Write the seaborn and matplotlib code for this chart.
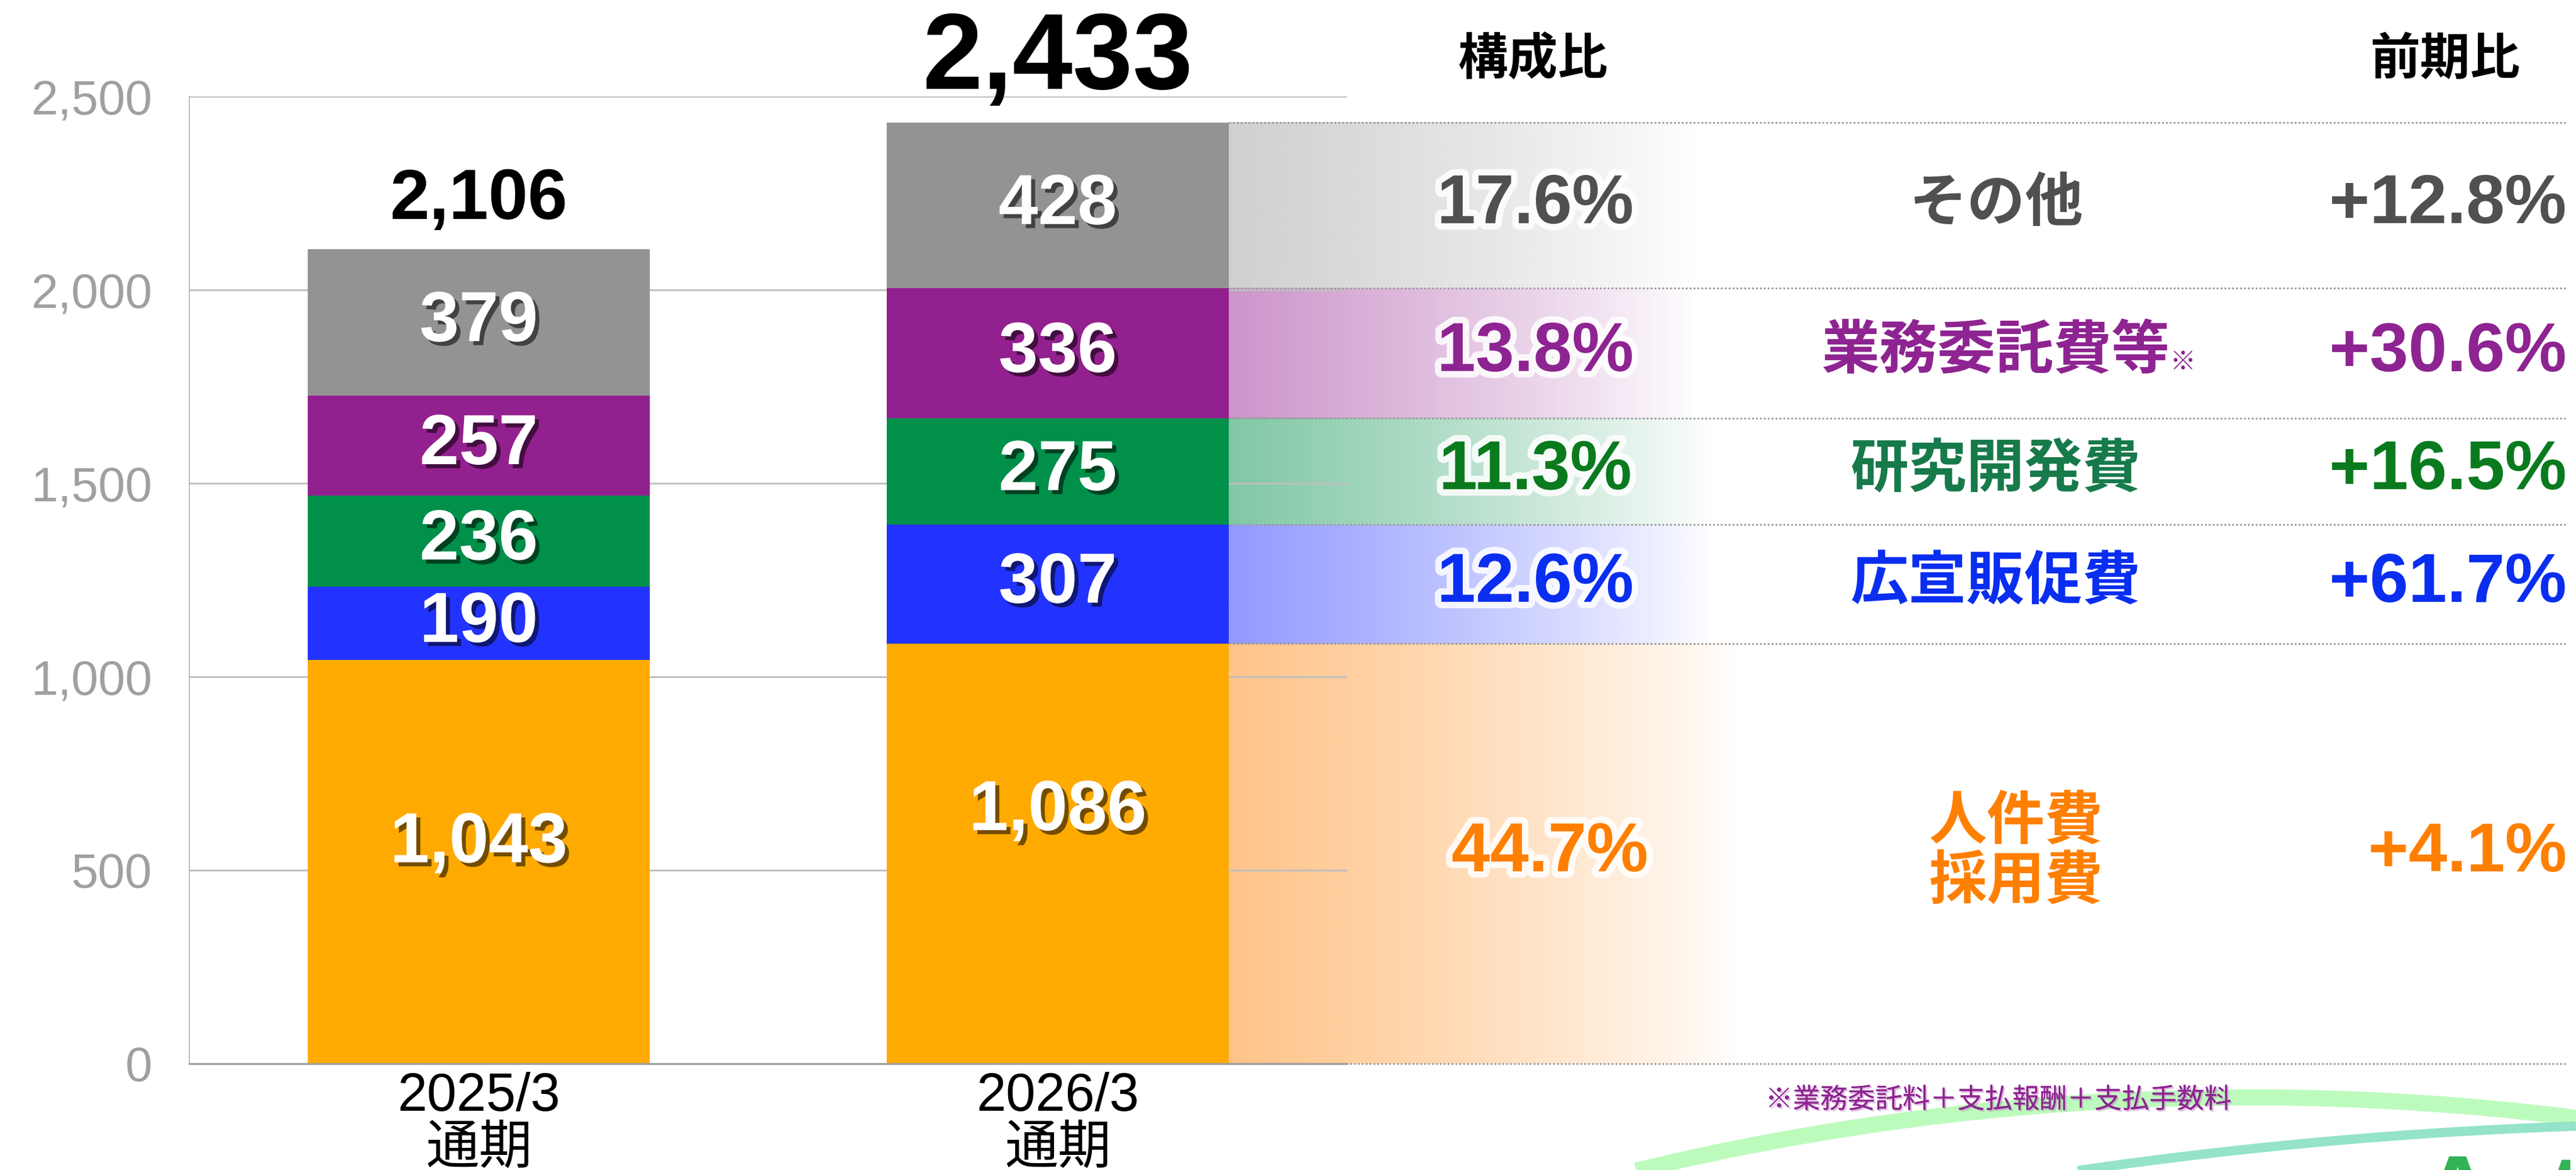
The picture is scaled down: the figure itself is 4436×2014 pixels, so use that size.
import numpy as np
import pandas as pd
import matplotlib
matplotlib.use('Agg')
import matplotlib.pyplot as plt
import matplotlib.patheffects as pe
from matplotlib.ticker import FixedLocator
import seaborn as sns

# ---------------- data ----------------
periods = ['2025/3\n通期', '2026/3\n通期']
# layers listed bottom -> top
personnel = [1043, 1086]      # 人件費・採用費
advertising = [190, 307]      # 広宣販促費
rnd = [236, 275]              # 研究開発費
outsourcing = [257, 336]      # 業務委託費等
other = [379, 428]            # その他
totals = [2106, 2433]

row_labels = ['人件費\n採用費', '広宣販促費', '研究開発費', '業務委託費等', 'その他']
share_labels = ['44.7%', '12.6%', '11.3%', '13.8%', '17.6%']
yoy_labels = ['+4.1%', '+61.7%', '+16.5%', '+30.6%', '+12.8%']
yticks = [0, 500, 1000, 1500, 2000, 2500]
ytick_labels = ['0', '500', '1,000', '1,500', '2,000', '2,500']
header_share = '構成比'
header_yoy = '前期比'
footnote = '※業務委託料＋支払報酬＋支払手数料'

# ---------------- style ----------------
bar_colors = ['#FFAA00', '#2233FF', '#00904A', '#93208F', '#939393']
band_colors = ['#FF8000', '#2233FF', '#00904A', '#9A2A96', '#A0A0A0']
band_alpha = [0.47, 0.5, 0.5, 0.5, 0.5]
band_end = [2.18, 2.13, 2.13, 2.1, 2.1]
value_colors = ['#FF7F00', '#0A2EF0', '#0A7A1E', '#8E2491', '#505050']
label_colors = ['#FF7F00', '#0A2EF0', '#177A4A', '#8E2491', '#505050']

sns.set_theme(style='white')
plt.rcParams['font.family'] = ['Liberation Sans', 'Noto Sans CJK JP', 'DejaVu Sans']

fig = plt.figure(figsize=(22.18, 10.0702), dpi=200)

# background decoration (slide swooshes + logo fragment)
bg = fig.add_axes([0, 0, 1, 1], zorder=-5)
bg.set_xlim(0, 4436)
bg.set_ylim(2014, 0)
bg.axis('off')
xs1 = np.linspace(2760, 4436, 300)
bg.plot(xs1, 6389 - np.sqrt(4500**2 - (xs1 - 3875)**2), color='#BDFBBD', lw=10, solid_capstyle='butt')
xs2 = np.linspace(3440, 4436, 300)
bg.plot(xs2, 9747 - np.sqrt(7813**2 - (xs2 - 4700)**2), color='#95E3CB', lw=5.8, solid_capstyle='butt')
bg.text(4170, 1984, 'Ast', color='#32B356', fontsize=62, fontweight='bold', ha='left', va='top')

ax = fig.add_axes([0.0735, 0.0909, 0.4495, 0.8267])

layers = np.array([personnel, advertising, rnd, outsourcing, other], dtype=float)
cum = np.cumsum(layers, axis=0)
bar_w = 0.59

for i in range(len(layers) - 1, -1, -1):
    df = pd.DataFrame({'period': periods, 'value': cum[i]})
    sns.barplot(data=df, x='period', y='value', color=bar_colors[i], saturation=1,
                width=bar_w, linewidth=0, ax=ax, zorder=2)

ax.set_xlabel('')
ax.set_ylabel('')
ax.set_xlim(-0.5, 1.5)
ax.set_ylim(0, 2500)

# gridlines / spines
ax.set_yticks(yticks)
ax.set_yticklabels(ytick_labels)
ax.yaxis.grid(True, color='#BFBFBF', lw=1.1, zorder=0.5)
ax.set_axisbelow(True)
for s in ['top', 'right']:
    ax.spines[s].set_visible(False)
ax.spines['left'].set_color('#B0B0B0')
ax.spines['left'].set_linewidth(0.6)
ax.spines['bottom'].set_color('#A0A0A0')
ax.spines['bottom'].set_linewidth(1.2)
ax.tick_params(axis='y', length=0, pad=23, labelsize=30, labelcolor='#A0A0A0')
ax.tick_params(axis='x', which='major', length=0, pad=5, labelsize=33, labelcolor='black')
ax.xaxis.set_minor_locator(FixedLocator([-0.5, 0.5, 1.5]))
ax.tick_params(axis='x', which='minor', length=7, width=0.8, color='#A0A0A0', direction='out')
for lab in ax.get_xticklabels():
    lab.set_linespacing(1.08)

# gradient bands to the right of the 2026/3 bar
x_edge = 1 + bar_w / 2
bottoms = np.concatenate([[0], cum[:-1, 1]])
for i in range(len(layers)):
    n = 400
    t = np.linspace(0, 1, n)
    rgba = np.zeros((1, n, 4))
    rgba[..., :3] = matplotlib.colors.to_rgb(band_colors[i])
    rgba[0, :, 3] = band_alpha[i] * np.clip(1 - t, 0, 1) ** 0.85
    ax.imshow(rgba, extent=(x_edge, band_end[i], bottoms[i], cum[i, 1]), aspect='auto',
              clip_on=False, zorder=0.2, interpolation='bilinear')

# dotted separators
x_right = 3.606
for yv in [0] + list(cum[:, 1]):
    ax.plot([x_edge, x_right], [yv, yv], ls=(0, (1, 1.2)), color='#9A9A9A', lw=1.1,
            clip_on=False, zorder=3)

ax.set_xlim(-0.5, 1.5)
ax.set_ylim(0, 2500)

# values inside bars
shadow = [pe.withSimplePatchShadow(offset=(2.5, -2.5), shadow_rgbFace='black', alpha=0.55)]
personnel_label_pos = [0.545, 0.6]
for j in range(2):
    for i in range(len(layers)):
        b = cum[i, j] - layers[i, j]
        frac = personnel_label_pos[j] if i == 0 else 0.5
        yv = b + layers[i, j] * frac
        ax.text(j, yv, f'{int(layers[i, j]):,}', ha='center', va='center', color='white',
                fontsize=44, fontweight='bold', path_effects=shadow, zorder=5)

# totals
ax.text(0, totals[0] + 125, f'{totals[0]:,}', ha='center', va='center', fontsize=44,
        fontweight='bold', color='black', zorder=5)
ax.text(1, 2592, f'{totals[1]:,}', ha='center', va='center', fontsize=67,
        fontweight='bold', color='black', zorder=5)

# table headers
ax.text(1.82, 2592, header_share, ha='center', va='center', fontsize=31, fontweight='bold',
        color='black')
ax.text(3.396, 2592, header_yoy, ha='center', va='center', fontsize=31, fontweight='bold',
        color='black')

glow = [pe.withStroke(linewidth=8, foreground='white', alpha=0.85)]
for i in range(len(layers)):
    yc = bottoms[i] + layers[i, 1] / 2
    xs = 1.85 if i == 0 else 1.825
    ax.text(xs, yc, share_labels[i], ha='center', va='center', fontsize=43, fontweight='bold',
            color=value_colors[i], path_effects=glow, zorder=6)
    xl = 2.655 if i == 0 else 2.62
    t = ax.text(xl, yc, row_labels[i], ha='center', va='center', fontsize=36, fontweight='bold',
                color=label_colors[i], linespacing=1.12, zorder=6)
    if i == 3:
        ax.annotate('※', xy=(1.0, 0.1), xycoords=t, ha='left', va='bottom', fontsize=16,
                    color=label_colors[i], annotation_clip=False)
    ax.text(x_right, yc, yoy_labels[i], ha='right', va='center', fontsize=43, fontweight='bold',
            color=value_colors[i], zorder=6)

# footnote
ax.text(2.625, -96, footnote, ha='center', va='center', fontsize=17, color='#8E2491',
        path_effects=[pe.withSimplePatchShadow(offset=(1, -1), shadow_rgbFace='#C080C0', alpha=0.5),
                      pe.Normal()])

fig.savefig('out.png', dpi=200)
